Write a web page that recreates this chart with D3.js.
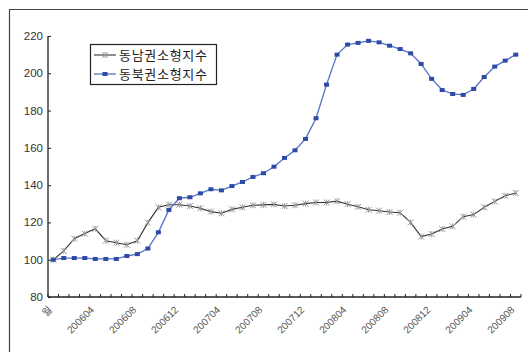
<!DOCTYPE html>
<html><head><meta charset="utf-8">
<script src="https://cdn.jsdelivr.net/npm/d3@7"></script>
<style>body{margin:0;background:#fff}svg{display:block}</style>
</head><body><svg id="c" width="528" height="352"></svg>
<script>
const categories = ["월","200601","200602","200603","200604","200605","200606","200607","200608","200609","200610","200611","200612",
"200701","200702","200703","200704","200705","200706","200707","200708","200709","200710","200711","200712",
"200801","200802","200803","200804","200805","200806","200807","200808","200809","200810","200811","200812",
"200901","200902","200903","200904","200905","200906","200907","200908"];
const seriesNames = ["동남권소형지수","동북권소형지수"];
const southeast = [100,104.7,111.3,114,116.6,110.2,109.1,108,110.2,119.9,128.1,129.5,129.5,128.8,127.6,125.8,124.9,127,128.1,129.2,129.4,129.7,128.8,129.2,130.1,130.7,130.7,131.4,129.8,128.4,126.8,126.3,125.6,125.2,120,112.4,113.8,116.5,117.9,123.1,124.2,128.1,131.3,134.3,135.8];
const northeast = [100,100.9,100.9,100.9,100.4,100.4,100.4,102,103,106,114.7,126.7,133,133.5,135.6,137.8,137.2,139.5,141.7,144.4,146.4,149.9,154.6,158.7,164.8,175.9,193.9,210,215.4,216.3,217.4,216.6,214.8,213,210.7,205,197,191,188.9,188.4,191.6,198,203.6,206.8,210];
const yTicks = [80,100,120,140,160,180,200,220];
const xLabels = categories.filter((d,i)=>i%4===0);

const svg = d3.select("#c");
const L=48, R=521, T=36, B=297;
const x = d3.scaleBand().domain(categories).range([L,R]);
const y = d3.scaleLinear().domain([80,220]).range([B,T]);
const cx = d => x(d)+x.bandwidth()/2;

// outer border
svg.append("path").attr("d",`M9.5,400V9.5H600`).attr("fill","none").attr("stroke","#444").attr("stroke-width",1.2);

// y axis
const ya = svg.append("g").attr("transform",`translate(${L},0)`)
  .call(d3.axisRight(y).tickValues(yTicks).tickSize(3).tickFormat(""));
ya.select(".domain").attr("d",`M0,${T}V${B}`).attr("stroke","#222").attr("stroke-width",1.3);
ya.selectAll(".tick line").attr("stroke","#222");
svg.append("g").selectAll("text").data(yTicks).join("text")
  .attr("x",43).attr("y",d=>y(d)+4).attr("text-anchor","end")
  .attr("font-family","Liberation Sans, Arial, sans-serif").attr("font-size",11.5).attr("fill","#333").text(d=>d);

// x axis
const xa = svg.append("g").attr("transform",`translate(0,${B})`);
xa.append("line").attr("x1",L).attr("x2",R).attr("stroke","#222").attr("stroke-width",1.3);
const bounds = categories.map(d=>x(d)).concat([R]);
xa.selectAll("line.t").data(bounds).join("line").attr("class","t")
  .attr("x1",d=>d).attr("x2",d=>d).attr("y1",0).attr("y2",-3).attr("stroke","#222");
xa.selectAll("text").data(xLabels).join("text")
  .attr("transform",d=>`translate(${cx(d)-3},${11}) rotate(-45)`)
  .attr("text-anchor","end").attr("dy","0.35em")
  .attr("font-family","Liberation Sans, Arial, 'Noto Sans CJK KR', sans-serif").attr("font-size",10).attr("fill","#555").text(d=>d);

// lines
const line = d3.line().x((d,i)=>cx(categories[i])).y(d=>y(d));
svg.append("path").datum(southeast).attr("d",line).attr("fill","none").attr("stroke","#333").attr("stroke-width",1.1);
svg.append("path").datum(northeast).attr("d",line).attr("fill","none").attr("stroke","#5572c4").attr("stroke-width",1.3);

// markers
const xm = (sx,sy,s)=>`M${sx-s},${sy-s}L${sx+s},${sy+s}M${sx-s},${sy+s}L${sx+s},${sy-s}M${sx},${sy-s}L${sx},${sy+s}`;
svg.append("g").selectAll("path").data(southeast).join("path")
  .attr("d",(d,i)=>xm(cx(categories[i]),y(d),3)).attr("stroke","#999").attr("stroke-width",1).attr("fill","none");
svg.append("g").selectAll("rect").data(northeast).join("rect")
  .attr("x",(d,i)=>cx(categories[i])-2.5).attr("y",d=>y(d)-2).attr("width",5).attr("height",4).attr("fill","#2c4aa6");

// legend
const lg = svg.append("g");
lg.append("rect").attr("x",90.5).attr("y",44.5).attr("width",126).attr("height",40).attr("fill","#fff").attr("stroke","#222").attr("stroke-width",1.2);
const rows=[55,74];
lg.append("line").attr("x1",94).attr("x2",116).attr("y1",rows[0]).attr("y2",rows[0]).attr("stroke","#333").attr("stroke-width",1.1);
lg.append("path").attr("d",xm(105,rows[0],3)).attr("stroke","#999").attr("fill","none");
lg.append("line").attr("x1",94).attr("x2",116).attr("y1",rows[1]).attr("y2",rows[1]).attr("stroke","#5572c4").attr("stroke-width",1.3);
lg.append("rect").attr("x",102.5).attr("y",rows[1]-2).attr("width",5).attr("height",4).attr("fill","#2c4aa6");
lg.selectAll("text").data(seriesNames).join("text")
  .attr("x",119).attr("y",(d,i)=>rows[i]+4.5).attr("letter-spacing",0.7)
  .attr("font-family","'Noto Sans CJK KR', sans-serif").attr("font-size",13).attr("fill","#222").text(d=>d);
</script></body></html>
